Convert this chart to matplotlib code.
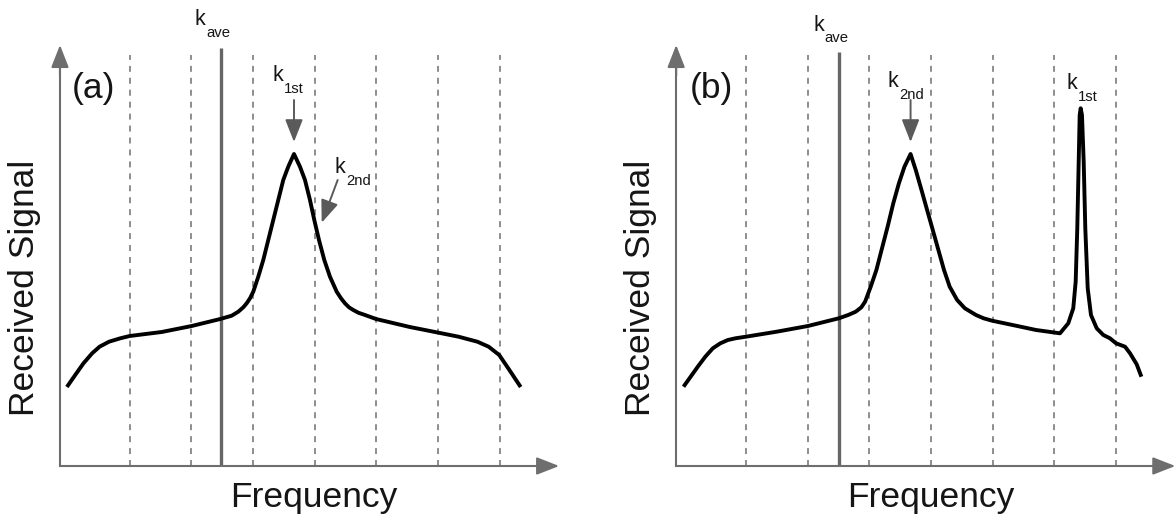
import matplotlib
matplotlib.use("Agg")
import matplotlib.pyplot as plt

plt.rcParams["font.family"] = ["Liberation Sans", "DejaVu Sans"]
plt.rcParams["lines.scale_dashes"] = False

# frequency in channel units (dashed channel edges at 1..7), signal in arbitrary units
channel_edges = [1, 2, 3, 4, 5, 6, 7]

freq_a = [-0.018, 0.117, 0.251, 0.391, 0.512, 0.665, 0.848, 1.0, 1.519, 2.005, 2.468,
          2.653, 2.760, 2.841, 2.896, 2.950, 3.003, 3.084, 3.165, 3.246, 3.327, 3.408,
          3.489, 3.570, 3.663, 3.760, 3.841, 3.922, 3.992, 4.068, 4.154, 4.246, 4.355,
          4.425, 4.489, 4.554, 4.624, 4.705, 4.814, 4.992, 5.54, 5.99, 6.33, 6.635,
          6.818, 6.989, 7.154, 7.337]
signal_a = [0.79, 0.91, 1.027, 1.127, 1.193, 1.243, 1.277, 1.30, 1.34, 1.40, 1.47,
            1.503, 1.543, 1.587, 1.627, 1.677, 1.743, 1.893, 2.06, 2.26, 2.46, 2.66,
            2.86, 2.993, 3.12, 2.993, 2.86, 2.66, 2.46, 2.26, 2.06, 1.893, 1.743,
            1.677, 1.627, 1.587, 1.56, 1.533, 1.51, 1.47, 1.39, 1.335, 1.293, 1.243,
            1.193, 1.11, 0.96, 0.79]

freq_b = [-0.011, 0.220, 0.342, 0.464, 0.586, 0.708, 0.830, 1.0, 1.499, 2.005, 2.506,
          2.658, 2.780, 2.871, 2.932, 3.023, 3.115, 3.206, 3.297, 3.389, 3.480, 3.570,
          3.669, 3.753, 3.846, 3.937, 4.029, 4.120, 4.211, 4.303, 4.424, 4.549, 4.729,
          4.853, 4.990, 5.399, 5.703, 6.091, 6.225, 6.306, 6.345, 6.371, 6.394, 6.410,
          6.426, 6.447, 6.475, 6.501, 6.540, 6.593, 6.686, 6.793, 6.901, 6.999, 7.145,
          7.226, 7.334, 7.410]
signal_b = [0.793, 0.993, 1.093, 1.177, 1.227, 1.26, 1.277, 1.293, 1.343, 1.40, 1.477,
            1.51, 1.543, 1.587, 1.643, 1.793, 1.96, 2.177, 2.393, 2.627, 2.827, 2.993,
            3.12, 2.96, 2.76, 2.56, 2.36, 2.16, 1.96, 1.793, 1.66, 1.577, 1.51,
            1.477, 1.453, 1.40, 1.36, 1.327, 1.427, 1.577, 1.843, 2.377, 3.043, 3.51,
            3.577, 3.51, 3.043, 2.377, 1.777, 1.51, 1.377, 1.31, 1.277, 1.227, 1.193,
            1.127, 1.017, 0.893]

kave_a, kave_b = 2.475, 2.506
panel_tags = ["(a)", "(b)"]

GRAY_AX = "#6e6e6e"
GRAY_ARROW = "#5a5a5a"
TXT = "#151515"
XLIM = (-1.102, 8.420)
YLIM = (-0.53, 4.66)
X0, XTIP, YTIP = -0.13, 7.96, 4.21


def label_k(ax, x, y, sub, dy=0.115):
    ax.text(x, y, "k", fontsize=15.5, color=TXT, ha="left", va="baseline")
    ax.text(x + 0.185, y - dy, sub, fontsize=10.7, color=TXT, ha="left", va="baseline")


def arrow(ax, start, tip, color, lw, scale=12):
    ax.annotate("", xy=tip, xytext=start,
                arrowprops=dict(arrowstyle="-|>,head_length=1.15,head_width=0.45",
                                mutation_scale=scale, color=color, lw=lw,
                                shrinkA=0, shrinkB=0))


def draw_panel(ax, freq, signal, kave, kave_top, tag, tag_x):
    ax.set_xlim(*XLIM)
    ax.set_ylim(*YLIM)
    ax.set_axis_off()
    ax.vlines(channel_edges, 0, 4.11, colors="#7a7a7a", lw=1.2, linestyles=(0, (4.3, 4.3)))
    ax.vlines([kave], 0, kave_top, colors="#666666", lw=2.4)
    ax.plot(freq, signal, color="black", lw=2.8, solid_joinstyle="round",
            solid_capstyle="butt")
    # axes with arrow heads
    ax.plot([X0, X0], [0, 4.0], color=GRAY_AX, lw=1.5)
    ax.plot([X0, 7.7], [0, 0], color=GRAY_AX, lw=1.5)
    arrow(ax, (X0, 3.9), (X0, YTIP), GRAY_AX, 1.5)
    arrow(ax, (7.6, 0), (XTIP, 0), GRAY_AX, 1.5)
    ax.text(tag_x, 3.78, tag, fontsize=25.5, color=TXT, ha="center", va="center")
    ax.text(-0.707, 1.78, "Received Signal", fontsize=25.5, color=TXT, rotation=90,
            ha="center", va="center")
    ax.text(3.99, -0.41, "Frequency", fontsize=25.5, color=TXT, ha="center", va="baseline")


fig = plt.figure(figsize=(11.75, 5.19), dpi=100)
ax_a = fig.add_axes([0, 0, 0.5, 1])
ax_b = fig.add_axes([616.2 / 1175, 0, 0.5, 1])

draw_panel(ax_a, freq_a, signal_a, kave_a, 4.18, panel_tags[0], 0.421)
label_k(ax_a, 2.058, 4.41, "ave")
label_k(ax_a, 3.314, 3.85, "1st")
label_k(ax_a, 4.321, 2.93, "2nd")
arrow(ax_a, (3.663, 3.66), (3.663, 3.24), GRAY_ARROW, 1.4)
arrow(ax_a, (4.371, 2.86), (4.112, 2.433), GRAY_ARROW, 1.4)

draw_panel(ax_b, freq_b, signal_b, kave_b, 4.14, panel_tags[1], 0.447)
label_k(ax_b, 2.088, 4.353, "ave")
label_k(ax_b, 3.303, 3.79, "2nd")
label_k(ax_b, 6.199, 3.77, "1st")
arrow(ax_b, (3.669, 3.66), (3.669, 3.24), GRAY_ARROW, 1.4)

fig.savefig("out.png", dpi=100, facecolor="white")
